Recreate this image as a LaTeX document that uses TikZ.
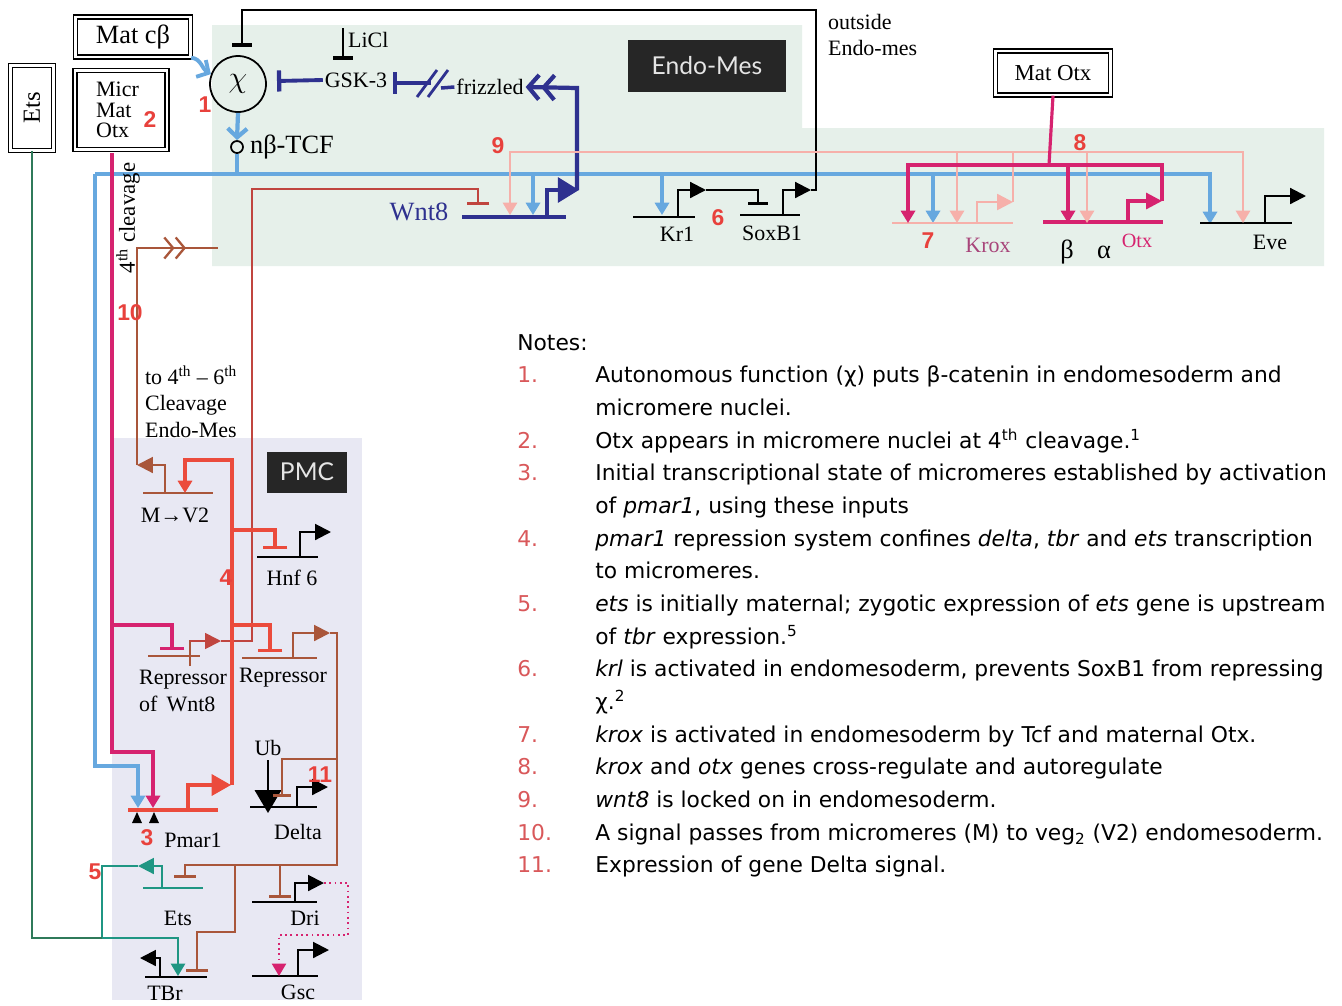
\documentclass[tikz,border=0pt]{standalone}
\usepackage{fontspec}
\setmainfont{Liberation Serif}
\setsansfont{Liberation Sans}
\newfontfamily\notefont{DejaVu Sans}
\newfontfamily\tagfont{Lato}
\usetikzlibrary{arrows.meta}

\newcommand{\fsz}[1]{\fontsize{#1}{#1}\selectfont}
\newcommand{\nno}[1]{\textcolor{noteno}{#1}}

\definecolor{bgendo}{HTML}{E6F0EA}
\definecolor{bgpmc}{HTML}{E8E8F3}
\definecolor{cblue}{HTML}{67A8DF}
\definecolor{cnavy}{HTML}{2E318F}
\definecolor{cmag}{HTML}{D6236F}
\definecolor{cpink}{HTML}{F6B0AA}
\definecolor{cred}{HTML}{EB4B3C}
\definecolor{cbrown}{HTML}{A9563A}
\definecolor{cwine}{HTML}{C0453F}
\definecolor{cteal}{HTML}{1F9683}
\definecolor{cgreen}{HTML}{2F7A5A}
\definecolor{cmauve}{HTML}{A8457A}
\definecolor{numred}{HTML}{E8413C}
\definecolor{noteno}{HTML}{D9585A}
\definecolor{tagbg}{HTML}{262626}

\tikzset{
  genelab/.style={font=\fsz{12.5}, inner sep=1pt},
  rednum/.style={text=numred, font=\sffamily\bfseries\fsz{13}, inner sep=0pt},
  matbox/.style={draw, double, double distance=1.5pt, line width=0.8pt},
  darktag/.style={fill=tagbg, text=black!10, font=\tagfont\fsz{14}},
  genebar/.style={line width=1.4pt},
  actdn/.style={-{Triangle[length=7pt,width=8pt]}},
  actbent/.style={-{Triangle[length=9pt,width=9pt]}},
  inhbar/.style={-{Bar[width=#1,line width=1.7pt]}},
  inhbar/.default=11pt,
  busline/.style={cblue, line width=2.4pt},
}

\begin{document}
\begin{tikzpicture}[x=0.02cm, y=-0.02cm]
\useasboundingbox (0,0) rectangle (1342,1005);
\fill[white] (0,0) rectangle (1342,1005);

% regions
\fill[bgendo] (212,25) -- (802,25) -- (802,128) -- (1324,128) -- (1324,266) -- (212,266) -- cycle;
\fill[bgpmc] (112,438) rectangle (362,1000);
\node[darktag, minimum width=3.18cm, minimum height=1.04cm] (endotag) at (707,66) {Endo-Mes};
\node[darktag, minimum width=1.62cm, minimum height=0.82cm] (pmctag) at (307,472) {PMC};

% maternal inputs
\node[matbox, minimum width=2.3cm, minimum height=0.8cm, font=\fsz{15}] (matcb) at (133,37) {Mat cβ};
\node[matbox, minimum width=1.84cm, minimum height=1.58cm] (micr) at (121,110) {};
\node[anchor=west, align=left, font=\fontsize{12.5}{11.5}\selectfont] (micrtxt) at (90,110) {Micr\\Mat\\Otx};
\node[matbox, minimum width=0.86cm, minimum height=1.7cm] (etsbox) at (32,108) {};
\node[rotate=90, font=\fsz{14}] (etstxt) at (etsbox) {Ets};
\node[matbox, minimum width=2.3cm, minimum height=0.88cm, font=\fsz{13}] (matotx) at (1053,73) {Mat Otx};

% chi and the beta-catenin branch
\node[circle, draw, line width=1pt, minimum size=1.12cm, inner sep=0pt, font=\fsz{18}] (chi) at (238,84) {$\chi$};
\node[circle, draw, line width=1pt, minimum size=0.24cm, inner sep=0pt] (tcf) at (237,147) {};
\node[anchor=west, font=\fsz{15}] (tcflab) at (tcf.east) {nβ-TCF};
\node[genelab] (gsk) at (356,80) {GSK-3};
\node[genelab, anchor=west] (licl) at (346,40) {LiCl};
\node[genelab] (frz) at (490,87) {frizzled};
\node[genelab, anchor=west] (outtxt) at (826,22) {outside};
\node[genelab, anchor=west] (outtxt2) at (826,48) {Endo-mes};

\draw[cblue, line width=2.2pt, -{Straight Barb[length=5pt,width=11pt]}] (matcb.south east) to[out=-5,in=150] (chi.160);
\draw[cblue, line width=2.4pt, -{Straight Barb[length=5pt,width=11pt]}] (chi.south) -- (tcf.north);
\draw[line width=1pt, -{Bar[width=11pt,line width=2pt]}] (343,28) -- (343,60);
\draw[cnavy, line width=2.2pt, -{Bar[width=12pt,line width=2.4pt]}] (gsk.west) -- (277,81);
\draw[cnavy, line width=2pt, -{Bar[width=12pt,line width=2.4pt]}] (431,83) -- (393,83);
\draw[cnavy, line width=2pt] (frz.west) -- (441,88);
\draw[cnavy, line width=1.6pt] (417,97) -- (437,70) (428,97) -- (448,70);

% the beta-catenin bus
\draw[busline] (tcf.south) -- (237,174);
\draw[busline, actdn] (95,174) -- (1210,174) -- (1210,224);
\draw[busline, actdn] (95,174) -- (95,766) -- (138,766) -- (138,808);
\foreach \x/\y in {533/215, 662/215, 933/223}
  \draw[busline, actdn] (\x,174) -- (\x,\y);

% Wnt8
\node[text=cnavy, font=\fsz{15}] (wnt8lab) at (419,212) {Wnt8};
\draw[cnavy, line width=2.6pt] (462,217) -- (566,217);
\draw[cnavy, line width=2.4pt, -{Triangle[length=12pt,width=14pt]}] (547,217) |- (579,190);
\draw[cnavy, line width=2.4pt, -{Straight Barb[length=6pt,width=14pt]Straight Barb[length=6pt,width=14pt]}] (577,190) -- (577,88) -- (frz.east);

% Kr1 and SoxB1
\node[genelab] (kr1lab) at (677,234) {Kr1};
\node[genelab] (soxlab) at (772,233) {SoxB1};
\draw[genebar] (633,217) -- (695,217);
\draw[genebar] (740,215) -- (800,215);
\draw[line width=1.2pt, actbent] (678,217) |- (706,190);
\draw[line width=1.2pt, inhbar] (706,190) -- (758,190) -- (758,205);
\coordinate (soxout) at (811,190);
\draw[line width=1.2pt, actbent] (783,215) |- (soxout);
\draw[line width=1pt, -{Bar[width=11pt,line width=2.2pt]}] (soxout) -- (816,190) -- (816,10) -- (242,10) -- (242,47);

% Krox, Otx, Eve
\node[genelab, text=cmauve] (kroxlab) at (988,245) {Krox};
\node[font=\fsz{15}] (betalab) at (1067,252) {β};
\node[font=\fsz{15}] (alphalab) at (1104,252) {α};
\node[genelab, text=cmag, font=\fsz{11.5}] (otxlab) at (1137,241) {Otx};
\node[genelab] (evelab) at (1270,242) {Eve};
\draw[cpink, genebar] (892,223) -- (1013,223);
\draw[cmag, line width=1.8pt] (1043,222) -- (1163,222);
\draw[genebar] (1200,223) -- (1292,223);
\draw[line width=1.2pt, actbent] (1265,223) |- (1306,196);
\draw[cpink, line width=1.4pt, actbent] (977,223) |- (1013,202);
\draw[cpink, line width=1.4pt, actdn] (1013,202) -- (1013,152) -- (510,152) -- (510,215);
\draw[cpink, line width=1.4pt, actdn] (1013,152) -- (1243,152) -- (1243,223);
\foreach \x in {957, 1087}
  \draw[cpink, line width=1.4pt, actdn] (\x,152) -- (\x,223);
\draw[cmag, line width=1.8pt, actbent] (1128,222) |- (1162,201);
\draw[cmag, line width=1.8pt] (matotx.south) -- (1049,165);
\draw[cmag, line width=1.8pt, actdn] (1162,201) -- (1162,165) -- (908,165) -- (908,223);
\draw[cmag, line width=1.8pt, actdn] (1068,165) -- (1068,223);

% signal to 4th-6th cleavage endo-mes
\node[rotate=90, font=\fsz{13}] (cleav) at (128,218) {4\textsuperscript{th} cleavage};
\node[genelab, anchor=north west, align=left, font=\fontsize{12.5}{15}\selectfont] (tocleav) at (143,364) {to 4\textsuperscript{th} – 6\textsuperscript{th}\\Cleavage\\Endo-Mes};
\draw[cbrown, line width=1.3pt, -{Straight Barb[length=5pt,width=12pt]Straight Barb[length=5pt,width=12pt]}] (137,465) -- (137,248) -- (186,248);
\draw[cbrown, line width=1.3pt] (180,248) -- (218,248);

% PMC genes
\node[genelab] (mvlab) at (175,515) {M→V2};
\node[genelab] (hnflab) at (292,578) {Hnf 6};
\node[genelab, anchor=west, align=left, font=\fontsize{12.5}{15}\selectfont] (rwlab) at (137,691) {Repressor\\of\, Wnt8};
\node[genelab] (replab) at (283,678) {Repressor};
\node[genelab] (ublab) at (268,748) {Ub};
\node[genelab] (deltalab) at (298,832) {Delta};
\node[genelab] (pmarlab) at (193,840) {Pmar1};
\node[genelab] (etslab) at (178,918) {Ets};
\node[genelab] (drilab) at (305,918) {Dri};
\node[genelab] (tbrlab) at (165,993) {TBr};
\node[genelab] (gsclab) at (298,992) {Gsc};

\draw[cbrown, line width=1pt] (143,493) -- (213,493);
\draw[cbrown, line width=1.2pt, actbent] (165,493) |- (137,465);
\draw[genebar] (257,557) -- (318,557);
\draw[line width=1.2pt, actbent] (300,557) |- (331,532);
\draw[cbrown, line width=1pt] (148,656) -- (200,656);
\draw[cbrown, line width=1pt] (190,666) -- (190,640);
\draw[cwine, line width=1pt, actbent] (190,641) -- (221,641);
\draw[cwine, line width=0.9pt, inhbar=13pt] (221,641) -- (252,641) -- (252,189) -- (478,189) -- (478,205);
\draw[cbrown, line width=1pt] (242,658) -- (317,658);
\draw[cbrown, line width=1.2pt, actbent] (293,658) |- (330,633);
\draw[cred, line width=2pt] (128,810) -- (218,810);
\draw[cred, line width=1.8pt, -{Triangle[length=11pt,width=12pt]}] (188,810) |- (231,785);
\draw[cred, line width=1.8pt, actdn] (232,785) -- (232,460) -- (185,460) -- (185,493);
\draw[cred, line width=1.8pt, inhbar=14pt] (232,530) -- (275,530) -- (275,549);
\draw[cred, line width=1.8pt, inhbar=14pt] (232,625) -- (270,625) -- (270,652);
\draw[cmag, line width=1.8pt, actdn] (112,153) -- (112,752) -- (153,752) -- (153,808);
\draw[cmag, line width=1.8pt, inhbar=14pt] (112,625) -- (172,625) -- (172,650);
\fill (132,823) -- (142,823) -- (137,812) -- cycle;
\fill (149,823) -- (159,823) -- (154,812) -- cycle;

% Delta
\draw[genebar] (250,807) -- (317,807);
\draw[line width=1.2pt, actbent] (297,807) |- (328,787);
\draw[line width=1.2pt, -{Triangle[length=13pt,width=15pt]}] (268,760) -- (268,813);

% repressor output
\draw[cbrown, line width=1pt] (330,633) -- (337,633) -- (337,865) -- (235,865);
\draw[cbrown, line width=1pt, inhbar=12pt] (235,865) -- (185,865) -- (185,878);
\draw[cbrown, line width=1pt, inhbar=10pt] (337,759) -- (282,759) -- (282,797);
\draw[cbrown, line width=1pt, inhbar=13pt] (235,865) -- (235,932) -- (197,932) -- (197,972);
\draw[cbrown, line width=1pt, inhbar=13pt] (280,865) -- (280,898);

% Ets, TBr, Dri, Gsc
\draw[cteal, genebar] (143,888) -- (203,888);
\draw[cteal, line width=1.2pt, actbent] (162,888) |- (138,866);
\draw[cteal, line width=1.2pt, actdn] (138,866) -- (102,866) -- (102,938) -- (178,938) -- (178,976);
\draw[cgreen, line width=1pt] (etsbox.south) -- (32,938) -- (102,938);
\draw[genebar] (145,977) -- (207,977);
\draw[line width=1.2pt, actbent] (160,977) |- (140,958);
\draw[genebar] (252,902) -- (317,902);
\draw[line width=1.2pt, actbent] (295,902) |- (324,883);
\draw[genebar] (252,976) -- (318,976);
\draw[line width=1.2pt, actbent] (298,976) |- (329,950);
\draw[cmag, line width=1pt, dotted, actdn] (324,883) -- (348,883) -- (348,935) -- (279,935) -- (279,976);

% numbers
\node[rednum] (n1) at (205,105) {1};
\node[rednum] (n2) at (150,120) {2};
\node[rednum] (n3) at (147,838) {3};
\node[rednum] (n4) at (226,578) {4};
\node[rednum] (n5) at (95,872) {5};
\node[rednum] (n6) at (718,218) {6};
\node[rednum] (n7) at (928,241) {7};
\node[rednum] (n8) at (1080,143) {8};
\node[rednum] (n9) at (498,146) {9};
\node[rednum] (n10) at (130,313) {10};
\node[rednum] (n11) at (320,775) {11};

% notes
\node[anchor=base west, inner sep=0pt, font=\notefont\fontsize{12.4}{18.6}\selectfont] (notes) at (517,350) {%
\begin{tabular}[t]{@{}p{1.56cm}@{}l@{}}
\multicolumn{2}{@{}l}{Notes:}\\
\nno{1.} & Autonomous function (χ) puts β-catenin in endomesoderm and\\
 & micromere nuclei.\\
\nno{2.} & Otx appears in micromere nuclei at 4\textsuperscript{th} cleavage.\textsuperscript{1}\\
\nno{3.} & Initial transcriptional state of micromeres established by activation\\
 & of \textit{pmar1}, using these inputs\\
\nno{4.} & \textit{pmar1} repression system confines \textit{delta}, \textit{tbr} and \textit{ets} transcription\\
 & to micromeres.\\
\nno{5.} & \textit{ets} is initially maternal; zygotic expression of \textit{ets} gene is upstream\\
 & of \textit{tbr} expression.\textsuperscript{5}\\
\nno{6.} & \textit{krl} is activated in endomesoderm, prevents SoxB1 from repressing\\
 & χ.\textsuperscript{2}\\
\nno{7.} & \textit{krox} is activated in endomesoderm by Tcf and maternal Otx.\\
\nno{8.} & \textit{krox} and \textit{otx} genes cross-regulate and autoregulate\\
\nno{9.} & \textit{wnt8} is locked on in endomesoderm.\\
\nno{10.} & A signal passes from micromeres (M) to veg\textsubscript{2} (V2) endomesoderm.\\
\nno{11.} & Expression of gene Delta signal.
\end{tabular}};
\end{tikzpicture}
\end{document}
